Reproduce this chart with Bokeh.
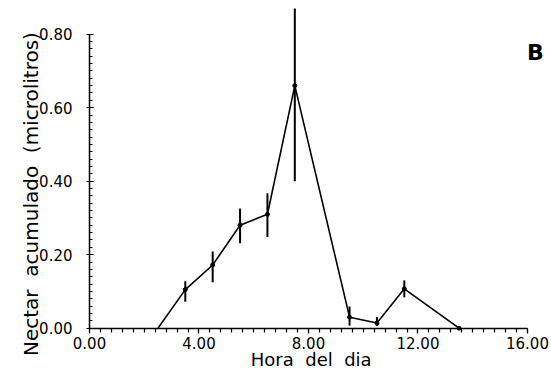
import math
from bokeh.plotting import figure
from bokeh.models import Range1d, FixedTicker, PrintfTickFormatter, Label
from bokeh.embed import file_html
from bokeh.resources import INLINE

# Data
hours = [2.5, 3.5, 4.5, 5.5, 6.5, 7.5, 9.5, 10.5, 11.5, 13.5]
nectar = [0.0, 0.105, 0.172, 0.28, 0.31, 0.66, 0.03, 0.014, 0.107, 0.0]
err_hours = [3.5, 4.5, 5.5, 6.5, 7.5, 9.5, 10.5, 11.5]
err_low = [0.072, 0.125, 0.231, 0.248, 0.40, 0.007, 0.006, 0.084]
err_high = [0.128, 0.209, 0.326, 0.367, 0.87, 0.059, 0.030, 0.130]
x_ticks = [0, 4, 8, 12, 16]
y_ticks = [0.0, 0.2, 0.4, 0.6, 0.8]

FONT = "DejaVu Sans"
NB = "\u00a0"

p = figure(width=551, height=373, output_backend="svg", toolbar_location=None,
           x_range=Range1d(-3.251, 16.877), y_range=Range1d(-0.1233, 0.8917),
           min_border=0, min_border_left=0, min_border_right=0,
           min_border_top=0, min_border_bottom=0)
p.outline_line_color = None
p.grid.visible = False
p.background_fill_color = "white"
p.border_fill_color = "white"

# error bars
p.segment(x0=err_hours, y0=err_low, x1=err_hours, y1=err_high,
          line_color="black", line_width=2)
# line
p.line(hours, nectar, line_color="black", line_width=1.6)
p.scatter(hours[1:], nectar[1:], size=4, color="black")

for ax in (p.xaxis[0], p.yaxis[0]):
    ax.fixed_location = 0
    ax.axis_line_color = "black"
    ax.axis_line_width = 1.5
    ax.major_tick_line_color = "black"
    ax.minor_tick_line_color = "black"
    ax.major_tick_line_width = 1.2
    ax.minor_tick_line_width = 1.2
    ax.major_label_text_font = FONT
    ax.major_label_text_font_size = "15px"
    ax.major_label_text_color = "black"
    ax.formatter = PrintfTickFormatter(format="%.2f")

xa = p.xaxis[0]
xa.ticker = FixedTicker(ticks=x_ticks, minor_ticks=[round(i * 0.4, 2) for i in range(41)])
xa.bounds = (0, 16)
xa.major_tick_out = 5
xa.major_tick_in = 0
xa.minor_tick_out = 4
xa.minor_tick_in = 0
xa.major_label_standoff = 4

ya = p.yaxis[0]
ya.ticker = FixedTicker(ticks=y_ticks, minor_ticks=[round(i * 0.02, 2) for i in range(41)])
ya.bounds = (0, 0.8)
ya.major_tick_out = 3
ya.major_tick_in = 4
ya.minor_tick_out = 0
ya.minor_tick_in = 3
ya.major_label_standoff = 14

p.add_layout(Label(x=8.1, y=-0.115, text=f"Hora{NB}{NB}del{NB}{NB}dia", text_align="center",
                   text_baseline="bottom", text_font=FONT, text_font_size="18px",
                   text_color="black"))
p.add_layout(Label(x=-2.155, y=0.365, text=f"Nectar{NB}{NB}acumulado{NB}{NB}(microlitros)",
                   angle=math.pi / 2, text_align="center", text_baseline="alphabetic",
                   text_font=FONT, text_font_size="20px", text_color="black"))
p.add_layout(Label(x=16.29, y=0.75, text="B", text_align="center", text_baseline="middle",
                   text_font=FONT, text_font_size="22px", text_font_style="bold",
                   text_color="black"))

open("out.html", "w").write(file_html(p, INLINE))
